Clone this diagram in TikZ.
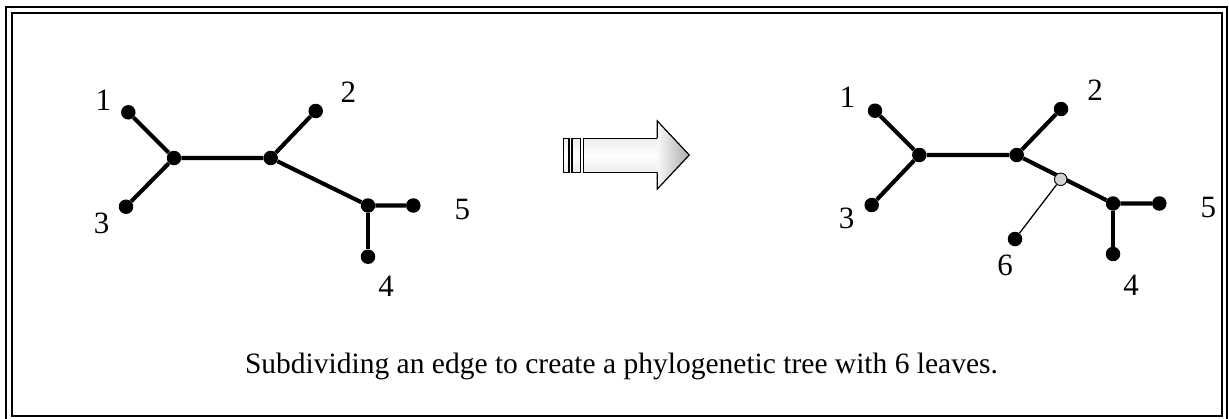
\documentclass[tikz,border=0pt]{standalone}
\usepackage{fontspec}
\setmainfont{Liberation Serif}
\begin{document}
\begin{tikzpicture}[x=1pt,y=-1pt,
  dot/.style={circle,fill=black,inner sep=0pt,minimum size=14.5pt},
  newdot/.style={circle,fill=gray!35,draw=black,line width=0.9pt,inner sep=0pt,minimum size=12.5pt},
  edge/.style={line width=4.1pt},
  thinedge/.style={line width=1.3pt},
  lab/.style={anchor=base,inner sep=0pt,font=\fontsize{31}{36}\selectfont},
  captext/.style={anchor=base,inner sep=0pt,font=\fontsize{29.5}{35}\selectfont}]
\useasboundingbox (0,0) rectangle (1229,418);
% frame
\draw[line width=2.4pt] (5.7,7) rectangle (1227.2,423);
\draw[line width=1.8pt] (12,12.7) rectangle (1221.7,415.7);
% left tree
\node[dot] (a1) at (128.3,112.3) {};
\node[dot] (aA) at (174,158) {};
\node[dot] (a3) at (126,206.7) {};
\node[dot] (aB) at (270.7,158) {};
\node[dot] (a2) at (315.7,111) {};
\node[dot] (aC) at (368,205.5) {};
\node[dot] (a5) at (413.3,205.5) {};
\node[dot] (a4) at (368,256.7) {};
\draw[edge] (a1) -- (aA) -- (aB) -- (aC) -- (a5);
\draw[edge] (a3) -- (aA);
\draw[edge] (aB) -- (a2);
\draw[edge] (aC) -- (a4);
\node[lab] (la1) at (103.3,110.7) {1};
\node[lab] (la2) at (348.3,102.7) {2};
\node[lab] (la3) at (101.7,233.3) {3};
\node[lab] (la4) at (386,296.7) {4};
\node[lab] (la5) at (462.3,219.5) {5};
% arrow
\draw[line width=1.2pt,top color=gray!15,bottom color=gray!15,middle color=white] (563.3,138.3) rectangle (569,172.3);
\draw[line width=1.2pt,top color=gray!15,bottom color=gray!15,middle color=white] (572,138.3) rectangle (580.3,172.3);
\draw[line width=1.2pt,top color=gray!15,bottom color=gray!15,middle color=white] (657.3,138.3) -- (583.3,138.3) -- (583.3,172.3) -- (657.3,172.3);
\draw[line width=1.2pt,left color=white!95!gray,right color=gray!65] (657.3,138.3) -- (657.3,121) -- (689.3,155) -- (657.3,189) -- (657.3,172.3);
% right tree
\node[dot] (b1) at (875,110.7) {};
\node[dot] (bA) at (919.3,155) {};
\node[dot] (b3) at (871.7,205) {};
\node[dot] (bB) at (1016.7,155) {};
\node[dot] (b2) at (1061,109) {};
\node[dot] (bC) at (1113,203.5) {};
\node[dot] (b5) at (1159.3,203.5) {};
\node[dot] (b4) at (1113,254) {};
\node[dot] (b6) at (1015,239) {};
\draw[edge] (b1) -- (bA) -- (bB) -- (bC) -- (b5);
\draw[edge] (b3) -- (bA);
\draw[edge] (bB) -- (b2);
\draw[edge] (bC) -- (b4);
\node[newdot] (bN) at (1060.7,179.3) {};
\draw[thinedge] (bN) -- (b6);
\node[lab] (lb1) at (847.3,107.3) {1};
\node[lab] (lb2) at (1095,100.7) {2};
\node[lab] (lb3) at (846.7,228.3) {3};
\node[lab] (lb4) at (1131,295) {4};
\node[lab] (lb5) at (1208.3,217.3) {5};
\node[lab] (lb6) at (1005,275) {6};
% caption
\node[captext] (caption) at (621.5,373.5) {Subdividing an edge to create a phylogenetic tree with 6 leaves.};
\end{tikzpicture}
\end{document}
